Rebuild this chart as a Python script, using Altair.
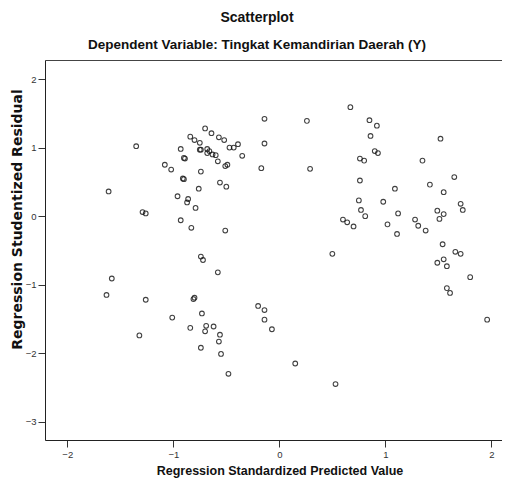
import altair as alt
import pandas as pd

# Regression Standardized Predicted Value (x) and Studentized Residual (y)
pred = [
    -0.14, -0.70, -0.64, -0.57, -0.52, -0.84, -0.80, -0.75, -0.14, -0.39,
    -0.47, -0.43, -1.35, -0.93, -0.75, -0.74, -0.68, -0.66, -0.68, -0.63,
    -0.60, -0.35, -0.90, -0.89, -0.58, -0.49, -0.51, -1.08, -1.02, -0.17,
    -0.74, -0.91, -0.90, -0.56, -0.50, -0.76, -1.61, -0.96, -0.86, -0.87,
    -0.79, -1.29, -1.26, -0.93, -0.83, -0.51, -0.74, -0.72, -0.58, -1.58,
    -1.63, -1.26, -0.80, -0.81, -0.73, -1.01, -0.84, -0.69, -0.70, -0.62,
    -0.56, -0.57, -1.32, -0.74, -0.55, -0.48, -0.20, -0.14, -0.14, -0.07,
    0.67, 0.26, 0.85, 0.92, 0.86, 1.52, 0.90, 0.93, 0.76, 0.80,
    1.35, 0.29, 0.76, 1.65, 1.09, 1.42, 1.55, 0.75, 0.98, 1.71,
    1.73, 0.77, 0.81, 1.12, 1.49, 1.55, 1.51, 0.60, 0.64, 0.70,
    1.02, 1.28, 1.31, 1.38, 1.11, 1.54, 0.50, 1.66, 1.71, 1.55,
    1.49, 1.58, 1.80, 1.58, 1.61, 1.96, 0.15, 0.53,
]
resid = [
    1.42, 1.28, 1.21, 1.15, 1.11, 1.16, 1.11, 1.07, 1.06, 1.05,
    1.00, 1.00, 1.02, 0.98, 0.97, 0.97, 0.98, 0.95, 0.92, 0.90,
    0.89, 0.88, 0.85, 0.84, 0.80, 0.75, 0.73, 0.75, 0.68, 0.70,
    0.65, 0.55, 0.54, 0.49, 0.43, 0.40, 0.36, 0.29, 0.25, 0.20,
    0.12, 0.06, 0.04, -0.06, -0.17, -0.21, -0.59, -0.64, -0.82, -0.91,
    -1.15, -1.22, -1.19, -1.21, -1.42, -1.48, -1.63, -1.60, -1.68, -1.61,
    -1.73, -1.83, -1.74, -1.92, -2.01, -2.30, -1.31, -1.37, -1.51, -1.65,
    1.59, 1.39, 1.40, 1.32, 1.17, 1.13, 0.95, 0.92, 0.84, 0.81,
    0.81, 0.69, 0.52, 0.57, 0.40, 0.46, 0.35, 0.23, 0.21, 0.18,
    0.09, 0.09, 0.00, 0.04, 0.08, 0.03, -0.04, -0.05, -0.09, -0.15,
    -0.12, -0.05, -0.14, -0.21, -0.26, -0.41, -0.55, -0.52, -0.55, -0.63,
    -0.68, -0.73, -0.89, -1.05, -1.12, -1.51, -2.15, -2.45,
]

x_ticks = [-2, -1, 0, 1, 2]
y_ticks = [-3, -2, -1, 0, 1, 2]

df = pd.DataFrame({"pred": pred, "resid": resid})

x_scale = alt.Scale(domain=[-2.21, 2.10], nice=False, zero=False)
y_scale = alt.Scale(domain=[-3.266, 2.278], nice=False, zero=False)

points = (
    alt.Chart(df)
    .mark_point(shape="circle", filled=False, size=22, strokeWidth=1.1,
                color="#111111", opacity=0.8)
    .encode(
        x=alt.X(
            "pred:Q", scale=x_scale,
            axis=alt.Axis(
                values=x_ticks, title="Regression Standardized Predicted Value",
                grid=False, tickSize=7, tickColor="#333333", domainColor="#222222",
                labelFontSize=9.5, labelColor="#333333", labelFont="Liberation Sans",
                labelPadding=2,
                titleFont="Liberation Sans", titleFontSize=12.5, titleFontWeight="bold",
                titleColor="#111111", titleX=234.5, titleY=34,
                titleAlign="center", titleBaseline="alphabetic",
            ),
        ),
        y=alt.Y(
            "resid:Q", scale=y_scale,
            axis=alt.Axis(
                values=y_ticks, title="Regression Studentized Residual",
                grid=False, tickSize=7, tickColor="#333333", domainColor="#222222",
                labelFontSize=9.5, labelColor="#333333", labelFont="Liberation Sans",
                labelPadding=2,
                titleFont="DejaVu Sans", titleFontSize=14, titleFontWeight="bold",
                titleColor="#111111", titleX=-24, titleY=159, titleAngle=-90,
                titleAlign="center", titleBaseline="alphabetic",
            ),
        ),
    )
)

# invisible layer that only carries the top frame line of the plot box
top_frame = (
    alt.Chart(df)
    .mark_point(opacity=0)
    .encode(
        x=alt.X("pred:Q", scale=x_scale,
                axis=alt.Axis(orient="top", labels=False, ticks=False, title=None,
                              grid=False, domainColor="#444444")),
    )
)

chart = (
    alt.layer(points, top_frame)
    .resolve_axis(x="independent")
    .properties(
        width=457,
        height=380,
        autosize=alt.AutoSizeParams(type="none"),
        padding={"left": 37, "top": 52, "right": 0, "bottom": 40},
        title=alt.TitleParams(
            text="Scatterplot",
            subtitle="Dependent Variable: Tingkat Kemandirian Daerah (Y)",
            font="Liberation Sans", fontSize=14, fontWeight="bold", color="#111111",
            subtitleFont="Liberation Sans", subtitleFontSize=13.5,
            subtitleFontWeight="bold", subtitleColor="#111111",
            anchor="middle", dx=-16.5, offset=9, subtitlePadding=13,
        ),
    )
    .configure_view(fill="#f0f0f0", stroke=None)
    .configure(background="white")
)

chart.save("out.html", embed_options={"renderer": "svg", "actions": False})
